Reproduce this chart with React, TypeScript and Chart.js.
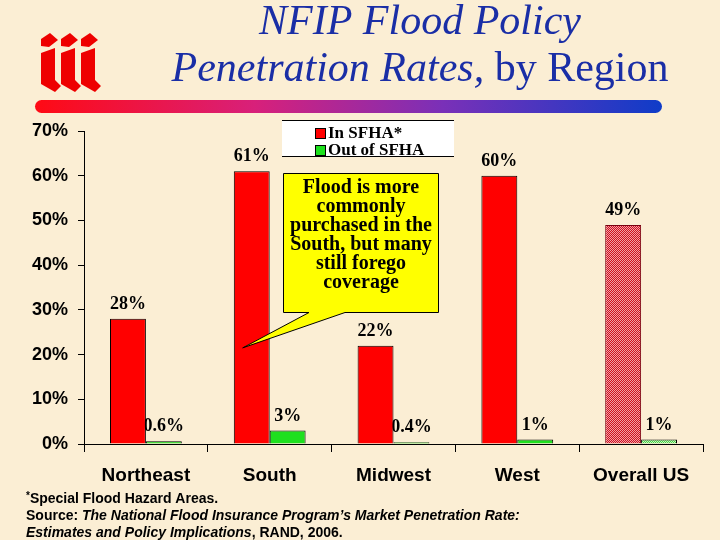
import { useEffect, useRef } from 'react';
import { Chart, registerables, Plugin } from 'chart.js';

Chart.register(...registerables);

// chart values
const regions = ['Northeast', 'South', 'Midwest', 'West', 'Overall US'];
const inSfhaRates = [28, 61, 22, 60, 49];
const outSfhaRates = [0.6, 3, 0.4, 1, 1];
const seriesNames = ['In SFHA*', 'Out of SFHA'];
const yMin = 0;
const yMax = 70;
const yStep = 10;

const titleTop = 'NFIP Flood Policy';
const titleItalic = 'Penetration Rates, ';
const titleUpright = 'by Region';
const calloutLines = ['Flood is more', 'commonly', 'purchased in the', 'South, but many', 'still forego', 'coverage'];

const RED = '#ff0000';
const GREEN = '#1ee01e';
const BG = '#fbeed4';
const TITLE_BLUE = '#1a2ea6';
const SERIF = '"Liberation Serif", "Times New Roman", serif';
const SANS = '"Liberation Sans", Arial, sans-serif';

const overallIndex = regions.indexOf('Overall US');

// checker pattern used for the "Overall US" bars
const makeChecker = (ctx: CanvasRenderingContext2D, a: string, b: string) => {
  const c = document.createElement('canvas');
  c.width = 2;
  c.height = 2;
  const p = c.getContext('2d')!;
  p.fillStyle = a;
  p.fillRect(0, 0, 2, 2);
  p.fillStyle = b;
  p.fillRect(0, 0, 1, 1);
  p.fillRect(1, 1, 1, 1);
  return ctx.createPattern(c, 'repeat') as CanvasPattern;
};

const fmtPct = (v: number) => (v < 1 ? v.toFixed(1) : String(v)) + '%';

// background, logo, title and the gradient rule
const slideBackground: Plugin<'bar'> = {
  id: 'slideBackground',
  beforeDraw(chart) {
    const ctx = chart.ctx;
    ctx.save();
    ctx.fillStyle = BG;
    ctx.fillRect(0, 0, chart.width, chart.height);

    // "iii" logo
    ctx.fillStyle = '#ee0000';
    [41, 61, 81].forEach((x0) => {
      ctx.beginPath();
      ctx.moveTo(x0, 39);
      ctx.lineTo(x0 + 9, 33);
      ctx.lineTo(x0 + 17, 40);
      ctx.lineTo(x0 + 8, 47);
      ctx.lineTo(x0, 46);
      ctx.closePath();
      ctx.fill();
      ctx.beginPath();
      ctx.moveTo(x0, 53);
      ctx.lineTo(x0 + 14, 48);
      ctx.lineTo(x0 + 14, 80);
      ctx.lineTo(x0 + 20, 86);
      ctx.lineTo(x0 + 14, 92);
      ctx.lineTo(x0, 84);
      ctx.closePath();
      ctx.fill();
    });

    // title
    ctx.fillStyle = TITLE_BLUE;
    ctx.textBaseline = 'alphabetic';
    ctx.textAlign = 'center';
    ctx.font = `italic 42px ${SERIF}`;
    ctx.fillText(titleTop, 420, 34);
    ctx.textAlign = 'left';
    const wItalic = ctx.measureText(titleItalic).width;
    ctx.font = `42px ${SERIF}`;
    const wUpright = ctx.measureText(titleUpright).width;
    const startX = 420 - (wItalic + wUpright) / 2;
    ctx.font = `italic 42px ${SERIF}`;
    ctx.fillText(titleItalic, startX, 81);
    ctx.font = `42px ${SERIF}`;
    ctx.fillText(titleUpright, startX + wItalic, 81);

    // gradient rule under the title
    const g = ctx.createLinearGradient(35, 0, 662, 0);
    g.addColorStop(0, '#ff0a14');
    g.addColorStop(0.35, '#d8207a');
    g.addColorStop(0.65, '#7a30b8');
    g.addColorStop(1, '#0f3cc8');
    ctx.fillStyle = g;
    ctx.beginPath();
    ctx.roundRect(35, 100, 627, 13, 6.5);
    ctx.fill();
    ctx.restore();
  },
};

// value labels, drawn before the bars so the red bars hide part of the green labels
const valueLabels: Plugin<'bar'> = {
  id: 'valueLabels',
  beforeDatasetsDraw(chart) {
    const ctx = chart.ctx;
    ctx.save();
    ctx.fillStyle = '#000';
    ctx.font = `bold 18px ${SERIF}`;
    ctx.textAlign = 'center';
    ctx.textBaseline = 'alphabetic';
    chart.data.datasets.forEach((ds, i) => {
      const meta = chart.getDatasetMeta(i);
      meta.data.forEach((bar, j) => {
        const v = ds.data[j] as number;
        ctx.fillText(fmtPct(v), bar.x, bar.y - 10);
      });
    });
    ctx.restore();
  },
};

// legend box, callout and footnotes
const slideOverlay: Plugin<'bar'> = {
  id: 'slideOverlay',
  afterDraw(chart) {
    const ctx = chart.ctx;
    ctx.save();

    // legend
    ctx.fillStyle = '#fff';
    ctx.fillRect(282, 120, 172, 37);
    ctx.strokeStyle = '#000';
    ctx.lineWidth = 1;
    ctx.beginPath();
    ctx.moveTo(282, 120.5);
    ctx.lineTo(454, 120.5);
    ctx.moveTo(282, 156.5);
    ctx.lineTo(454, 156.5);
    ctx.stroke();
    [RED, GREEN].forEach((c, i) => {
      const y = 128 + i * 17;
      ctx.fillStyle = c;
      ctx.fillRect(315, y, 10, 10);
      ctx.strokeRect(315.5, y + 0.5, 10, 10);
      ctx.fillStyle = '#000';
      ctx.font = `bold 17px ${SERIF}`;
      ctx.textAlign = 'left';
      ctx.fillText(seriesNames[i], 328, y + 10);
    });

    // callout pointing at the South bar
    const xs = chart.scales.x;
    const ys = chart.scales.y;
    const southX = xs.getPixelForValue(regions.indexOf('South'));
    const tipX = southX - 27;
    const tipY = ys.getPixelForValue(21.5);
    ctx.fillStyle = '#ffff00';
    ctx.beginPath();
    ctx.moveTo(283.5, 173.5);
    ctx.lineTo(438.5, 173.5);
    ctx.lineTo(438.5, 312.5);
    ctx.lineTo(345, 312.5);
    ctx.lineTo(tipX, tipY);
    ctx.lineTo(309, 312.5);
    ctx.lineTo(283.5, 312.5);
    ctx.closePath();
    ctx.fill();
    ctx.stroke();
    ctx.fillStyle = '#000';
    ctx.font = `bold 20px ${SERIF}`;
    ctx.textAlign = 'center';
    calloutLines.forEach((line, i) => {
      ctx.fillText(line, 361, 193 + i * 19);
    });

    // footnotes
    ctx.textAlign = 'left';
    let x = 26;
    ctx.font = `bold 10px ${SANS}`;
    ctx.fillText('*', x, 499);
    x += ctx.measureText('*').width;
    ctx.font = `bold 14px ${SANS}`;
    ctx.fillText('Special Flood Hazard Areas.', x, 503);

    x = 26;
    ctx.font = `bold 14px ${SANS}`;
    ctx.fillText('Source: ', x, 520);
    x += ctx.measureText('Source: ').width;
    ctx.font = `italic bold 14px ${SANS}`;
    ctx.fillText("The National Flood Insurance Program\u2019s Market Penetration Rate:", x, 520);

    x = 26;
    ctx.font = `italic bold 14px ${SANS}`;
    ctx.fillText('Estimates and Policy Implications', x, 537);
    x += ctx.measureText('Estimates and Policy Implications').width;
    ctx.font = `bold 14px ${SANS}`;
    ctx.fillText(', RAND, 2006.', x, 537);

    ctx.restore();
  },
};

export default function App() {
  const canvasRef = useRef<HTMLCanvasElement | null>(null);

  useEffect(() => {
    const canvas = canvasRef.current;
    if (!canvas) return;
    const ctx = canvas.getContext('2d');
    if (!ctx) return;

    const redPattern = makeChecker(ctx, '#d0101e', '#f0a0a8');
    const greenPattern = makeChecker(ctx, '#40d840', '#c8f0c0');

    const chart = new Chart(ctx, {
      type: 'bar',
      data: {
        labels: regions,
        datasets: [
          {
            label: seriesNames[0],
            data: inSfhaRates,
            backgroundColor: inSfhaRates.map((_, i) => (i === overallIndex ? redPattern : RED)) as any,
            borderColor: inSfhaRates.map((_, i) => (i === overallIndex ? '#7a0010' : '#000')),
            borderWidth: 1,
            categoryPercentage: 0.58,
            barPercentage: 1,
          },
          {
            label: seriesNames[1],
            data: outSfhaRates,
            backgroundColor: outSfhaRates.map((_, i) => (i === overallIndex ? greenPattern : GREEN)) as any,
            borderColor: '#000',
            borderWidth: 1,
            categoryPercentage: 0.58,
            barPercentage: 1,
          },
        ],
      },
      options: {
        responsive: false,
        animation: false,
        devicePixelRatio: 1,
        layout: { padding: { top: 131, right: 17, bottom: 36, left: 0 } },
        plugins: {
          legend: { display: false },
          tooltip: { enabled: false },
        },
        scales: {
          x: {
            grid: { drawOnChartArea: false, tickLength: 8, color: '#000', offset: true },
            border: { color: '#000', width: 1 },
            ticks: {
              color: '#000',
              font: { family: SANS, weight: 'bold', size: 19 },
              padding: 12,
            },
            afterFit: (s: any) => {
              s.height = 60;
            },
          },
          y: {
            min: yMin,
            max: yMax,
            grid: { drawOnChartArea: false, tickLength: 6, color: '#000' },
            border: { color: '#000', width: 1 },
            ticks: {
              stepSize: yStep,
              color: '#000',
              font: { family: SANS, weight: 'bold', size: 18 },
              padding: 10,
              callback: (v) => `${v}%`,
            },
            afterFit: (s: any) => {
              s.width = 84;
            },
          },
        },
      },
      plugins: [slideBackground, valueLabels, slideOverlay],
    });

    return () => {
      chart.destroy();
    };
  }, []);

  return (
    <div style={{ position: 'absolute', left: 0, top: 0, width: 720, height: 540, background: BG }}>
      <canvas ref={canvasRef} width={720} height={540} />
    </div>
  );
}
